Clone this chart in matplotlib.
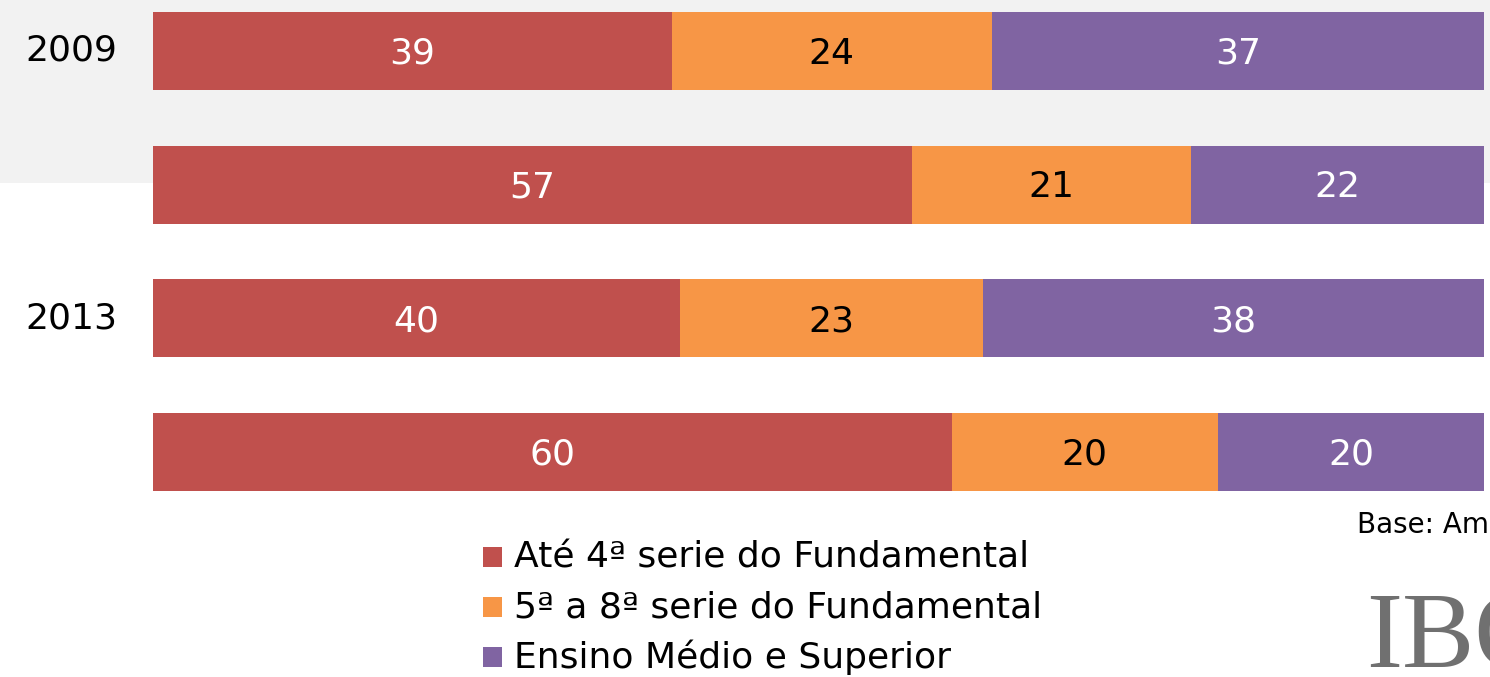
import numpy as np
import matplotlib.pyplot as plt
from matplotlib.patches import Rectangle

# dados
categorias = ['Até 4ª serie do Fundamental', '5ª a 8ª serie do Fundamental', 'Ensino Médio e Superior']
cores = ['#C0504D', '#F79646', '#8064A2']
cores_texto = ['white', 'black', 'white']
anos = ['2009', '', '2013', '']
valores = np.array([
    [39, 24, 37],
    [57, 21, 22],
    [40, 23, 38],
    [60, 20, 20],
])

W, H = 1490, 677
fig = plt.figure(figsize=(W / 100, H / 100), dpi=100)

# faixa cinza no topo
fig.patches.append(Rectangle((0, (H - 183) / H), 1, 183 / H, transform=fig.transFigure,
                             facecolor='#F2F2F2', edgecolor='none', zorder=-10))

ax = fig.add_axes([153 / W, (H - 491) / H, 1331 / W, 479 / H])
ax.patch.set_visible(False)

h = 78 / 134
y = np.arange(len(valores))
# barras normalizadas para 100%
perc = valores / valores.sum(axis=1, keepdims=True) * 100
esq = np.zeros(len(valores))
for j in range(len(categorias)):
    ax.barh(y, perc[:, j], left=esq, height=h, color=cores[j], edgecolor='none')
    for i in range(len(valores)):
        ax.text(esq[i] + perc[i, j] / 2, y[i] + 0.02, str(valores[i, j]), ha='center', va='center',
                color=cores_texto[j], fontsize=26)
    esq += perc[:, j]

ax.set_xlim(0, 100)
ax.set_ylim(3 + h / 2, -h / 2)
ax.axis('off')

for i, ano in enumerate(anos):
    ax.text(-36 / 1331, y[i], ano, transform=ax.get_yaxis_transform(), ha='right', va='center',
            fontsize=26)

# legenda
for j, cat in enumerate(categorias):
    yc = (H - (557 + 50 * j)) / H
    fig.patches.append(Rectangle((483 / W, yc - 10 / H), 19 / W, 20 / H, transform=fig.transFigure,
                                 facecolor=cores[j], edgecolor='none'))
    fig.text(514 / W, yc, cat, ha='left', va='center', fontsize=26)

fig.text(1357 / W, (H - 525) / H, 'Base: Amostra', ha='left', va='center', fontsize=20)
fig.text(1366 / W, (H - 667) / H, 'IBOPE', ha='left', va='baseline', fontsize=78,
         family='Liberation Serif', color='#707070')

fig.savefig('out.png', dpi=100)
